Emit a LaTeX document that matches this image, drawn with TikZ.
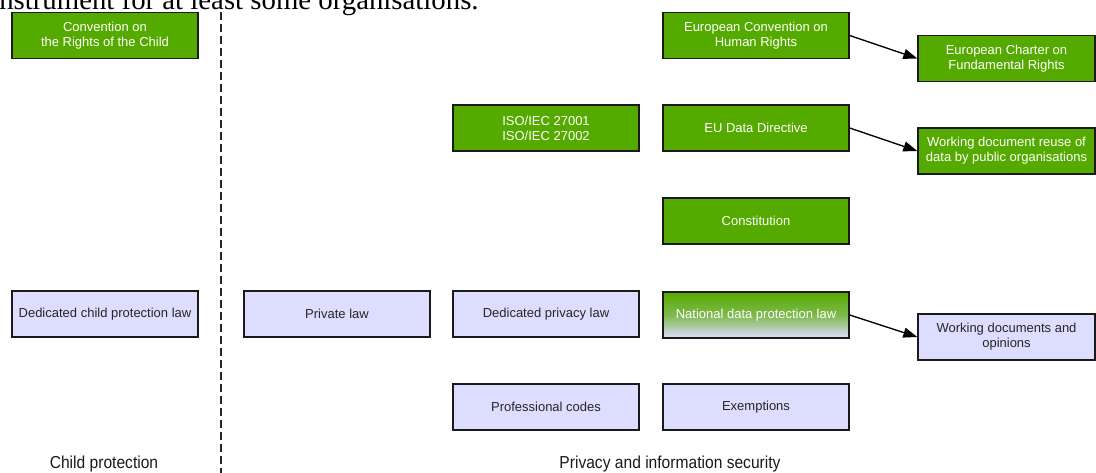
\documentclass[tikz,border=0pt]{standalone}
\usepackage{fontspec}
\setmainfont{Liberation Sans}
\newfontfamily\bodyserif{Liberation Serif}
\newfontfamily\narrowsans[FakeStretch=0.9]{Liberation Sans}
\usetikzlibrary{arrows.meta}

\definecolor{lawgreen}{HTML}{55AA00}
\definecolor{lawlilac}{HTML}{DDDDFF}
\definecolor{edge}{HTML}{1A1A1A}

\tikzset{
  box/.style={draw=edge, line width=1pt, minimum width=139.5pt, minimum height=34.5pt,
    inner sep=0pt, align=center, font=\fontsize{9.75pt}{11.25pt}\selectfont},
  greenbox/.style={box, fill=lawgreen, text=white},
  lilacbox/.style={box, fill=lawlilac, text=black!85},
  narrowbox/.style={minimum width=132.75pt},
  link/.style={draw=black, line width=1pt, -{Triangle[length=10.5pt,width=7.5pt]}},
  divider/.style={draw=black!85, line width=1pt, dash pattern=on 6pt off 3pt},
  caption/.style={inner sep=0pt, anchor=base, font=\narrowsans\fontsize{13pt}{15pt}\selectfont, text=black!90}
}

\begin{document}
\begin{tikzpicture}[x=0.75pt,y=-0.75pt]
\useasboundingbox (0,0) rectangle (1096,473);
\clip (0,0) rectangle (1096,473);

% running text above the figure
\node[inner sep=0pt, anchor=base west, font=\bodyserif\fontsize{21.6pt}{24pt}\selectfont] (lead) at (-1,10)
  {nstrument for at least some organisations.};

% separator between the two domains
\coordinate (divtop) at (221,12);
\coordinate (divbot) at (221,473);
\draw[divider] (divtop) -- (divbot);

% child protection column
\node[greenbox] (crc) at (105,35.5) {Convention on\\the Rights of the Child};
\node[lilacbox] (dcpl) at (105,314) {Dedicated child protection law};

% privacy and information security
\node[greenbox] (echr) at (756,35.5) {European Convention on\\Human Rights};
\node[greenbox, narrowbox] (charter) at (1006.5,58.5) {European Charter on\\Fundamental Rights};
\node[greenbox] (iso) at (546,128) {ISO/IEC 27001\\ISO/IEC 27002};
\node[greenbox] (dir) at (756,128) {EU Data Directive};
\node[greenbox, narrowbox] (reuse) at (1006.5,151) {Working document reuse of\\data by public organisations};
\node[greenbox] (const) at (756,221) {Constitution};
\node[lilacbox] (priv) at (337,314) {Private law};
\node[lilacbox] (dpl) at (546,314) {Dedicated privacy law};
\node[box, top color=lawgreen, bottom color=lawlilac, middle color=lawgreen!70!lawlilac, text=white] (ndpl) at (756,315) {National data protection law};
\node[lilacbox, narrowbox] (wdo) at (1006.5,337) {Working documents and\\opinions};
\node[lilacbox] (prof) at (546,407) {Professional codes};
\node[lilacbox] (exempt) at (756,407) {Exemptions};

% links
\draw[link] (echr.east) -- (charter.west);
\draw[link] (dir.east) -- (reuse.west);
\draw[link] (ndpl.east) -- (wdo.west);

% domain captions
\node[caption] (childcap) at (104,469) {Child protection};
\node[caption] (privcap) at (670,469) {Privacy and information security};
\end{tikzpicture}
\end{document}
